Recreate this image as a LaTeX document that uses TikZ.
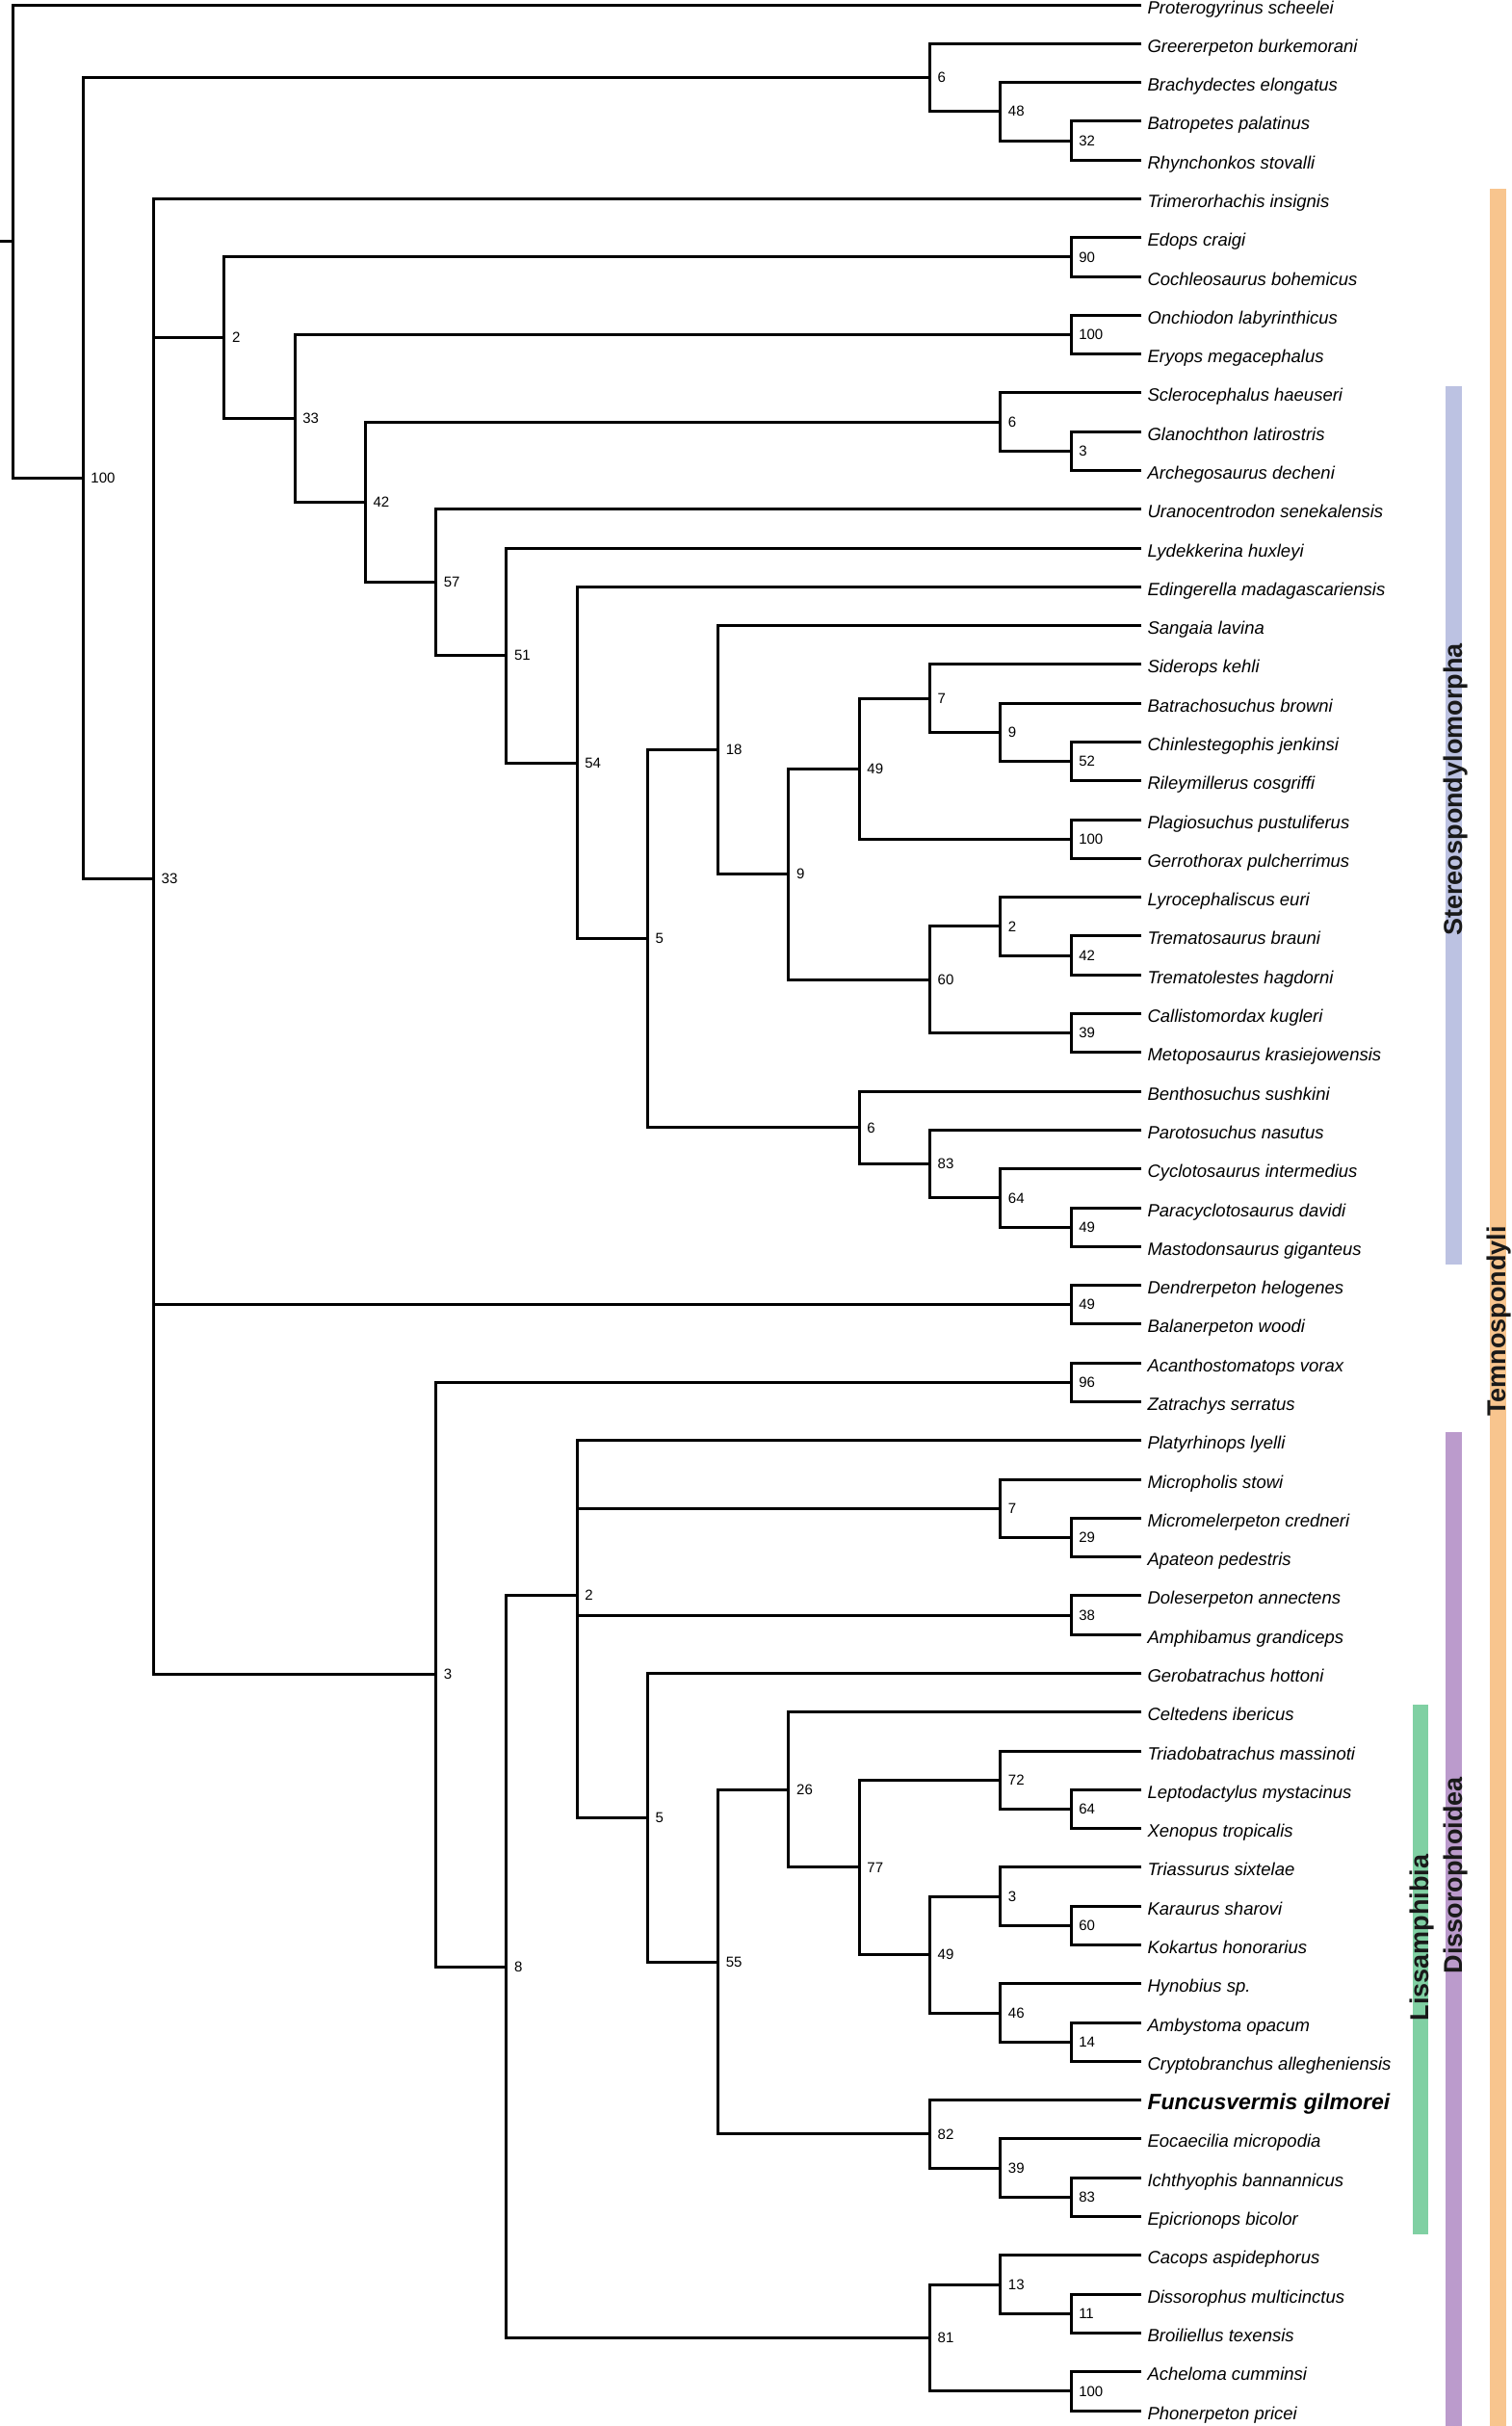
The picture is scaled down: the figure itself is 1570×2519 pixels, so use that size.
\documentclass[tikz,border=0pt]{standalone}
\usepackage{fontspec}
\setmainfont{Liberation Sans}
\definecolor{temncol}{RGB}{248,197,142}
\definecolor{stercol}{RGB}{188,194,226}
\definecolor{disscol}{RGB}{187,155,204}
\definecolor{lisscol}{RGB}{128,208,163}
\begin{document}
\begin{tikzpicture}[x=1pt, y=-1pt,
    branch/.style={line width=3pt, line join=miter},
    taxon/.style={anchor=base west, inner sep=0pt, xshift=6pt, yshift=-9pt, font=\fontsize{18.5}{20}\selectfont\itshape},
    newtaxon/.style={anchor=base west, inner sep=0pt, xshift=6pt, yshift=-10pt, font=\fontsize{23}{26}\selectfont\bfseries\itshape},
    bs/.style={anchor=west, inner sep=0pt, xshift=8pt, font=\fontsize{15}{17}\selectfont},
    cladename/.style={rotate=90, anchor=base, inner sep=0pt, text=black!90, font=\fontsize{27}{30}\selectfont\bfseries}]
    \useasboundingbox (0,0) rectangle (1570,2519);

    % clade bars
    \fill[temncol] (1547,196) rectangle (1564,2519);
    \fill[stercol] (1501,401) rectangle (1518,1313);
    \fill[disscol] (1501,1487) rectangle (1518,2519);
    \fill[lisscol] (1467,1770) rectangle (1483,2320);
    \node[cladename] (temn) at (1563,1372) {Temnospondyli};
    \node[cladename] (ster) at (1518,820) {Stereospondylomorpha};
    \node[cladename] (diss) at (1518,1947) {Dissorophoidea};
    \node[cladename] (liss) at (1483,2012) {Lissamphibia};

    \begin{scope}[shift={(13,5)}, x=73.27pt, y=-40.29pt]
    % tips
    \path (16,0) coordinate (prot) node[taxon] {Proterogyrinus scheelei};
    \path (16,1) coordinate (gree) node[taxon] {Greererpeton burkemorani};
    \path (16,2) coordinate (brac) node[taxon] {Brachydectes elongatus};
    \path (16,3) coordinate (batr) node[taxon] {Batropetes palatinus};
    \path (16,4) coordinate (rhyn) node[taxon] {Rhynchonkos stovalli};
    \path (16,5) coordinate (trim) node[taxon] {Trimerorhachis insignis};
    \path (16,6) coordinate (edop) node[taxon] {Edops craigi};
    \path (16,7) coordinate (coch) node[taxon] {Cochleosaurus bohemicus};
    \path (16,8) coordinate (onch) node[taxon] {Onchiodon labyrinthicus};
    \path (16,9) coordinate (eryo) node[taxon] {Eryops megacephalus};
    \path (16,10) coordinate (scle) node[taxon] {Sclerocephalus haeuseri};
    \path (16,11) coordinate (glan) node[taxon] {Glanochthon latirostris};
    \path (16,12) coordinate (arch) node[taxon] {Archegosaurus decheni};
    \path (16,13) coordinate (uran) node[taxon] {Uranocentrodon senekalensis};
    \path (16,14) coordinate (lyde) node[taxon] {Lydekkerina huxleyi};
    \path (16,15) coordinate (edin) node[taxon] {Edingerella madagascariensis};
    \path (16,16) coordinate (sang) node[taxon] {Sangaia lavina};
    \path (16,17) coordinate (side) node[taxon] {Siderops kehli};
    \path (16,18) coordinate (btch) node[taxon] {Batrachosuchus browni};
    \path (16,19) coordinate (chin) node[taxon] {Chinlestegophis jenkinsi};
    \path (16,20) coordinate (rile) node[taxon] {Rileymillerus cosgriffi};
    \path (16,21) coordinate (plag) node[taxon] {Plagiosuchus pustuliferus};
    \path (16,22) coordinate (gerr) node[taxon] {Gerrothorax pulcherrimus};
    \path (16,23) coordinate (lyro) node[taxon] {Lyrocephaliscus euri};
    \path (16,24) coordinate (trsa) node[taxon] {Trematosaurus brauni};
    \path (16,25) coordinate (trle) node[taxon] {Trematolestes hagdorni};
    \path (16,26) coordinate (call) node[taxon] {Callistomordax kugleri};
    \path (16,27) coordinate (meto) node[taxon] {Metoposaurus krasiejowensis};
    \path (16,28) coordinate (bent) node[taxon] {Benthosuchus sushkini};
    \path (16,29) coordinate (paro) node[taxon] {Parotosuchus nasutus};
    \path (16,30) coordinate (cycl) node[taxon] {Cyclotosaurus intermedius};
    \path (16,31) coordinate (pcyc) node[taxon] {Paracyclotosaurus davidi};
    \path (16,32) coordinate (mast) node[taxon] {Mastodonsaurus giganteus};
    \path (16,33) coordinate (dend) node[taxon] {Dendrerpeton helogenes};
    \path (16,34) coordinate (bala) node[taxon] {Balanerpeton woodi};
    \path (16,35) coordinate (acan) node[taxon] {Acanthostomatops vorax};
    \path (16,36) coordinate (zatr) node[taxon] {Zatrachys serratus};
    \path (16,37) coordinate (plat) node[taxon] {Platyrhinops lyelli};
    \path (16,38) coordinate (mcph) node[taxon] {Micropholis stowi};
    \path (16,39) coordinate (mcml) node[taxon] {Micromelerpeton credneri};
    \path (16,40) coordinate (apat) node[taxon] {Apateon pedestris};
    \path (16,41) coordinate (dole) node[taxon] {Doleserpeton annectens};
    \path (16,42) coordinate (amph) node[taxon] {Amphibamus grandiceps};
    \path (16,43) coordinate (gero) node[taxon] {Gerobatrachus hottoni};
    \path (16,44) coordinate (celt) node[taxon] {Celtedens ibericus};
    \path (16,45) coordinate (trbt) node[taxon] {Triadobatrachus massinoti};
    \path (16,46) coordinate (lept) node[taxon] {Leptodactylus mystacinus};
    \path (16,47) coordinate (xeno) node[taxon] {Xenopus tropicalis};
    \path (16,48) coordinate (trss) node[taxon] {Triassurus sixtelae};
    \path (16,49) coordinate (kara) node[taxon] {Karaurus sharovi};
    \path (16,50) coordinate (koka) node[taxon] {Kokartus honorarius};
    \path (16,51) coordinate (hyno) node[taxon] {Hynobius sp.};
    \path (16,52) coordinate (amby) node[taxon] {Ambystoma opacum};
    \path (16,53) coordinate (cryp) node[taxon] {Cryptobranchus allegheniensis};
    \path (16,54) coordinate (func) node[newtaxon] {Funcusvermis gilmorei};
    \path (16,55) coordinate (eoca) node[taxon] {Eocaecilia micropodia};
    \path (16,56) coordinate (icht) node[taxon] {Ichthyophis bannannicus};
    \path (16,57) coordinate (epic) node[taxon] {Epicrionops bicolor};
    \path (16,58) coordinate (caco) node[taxon] {Cacops aspidephorus};
    \path (16,59) coordinate (dssr) node[taxon] {Dissorophus multicinctus};
    \path (16,60) coordinate (broi) node[taxon] {Broiliellus texensis};
    \path (16,61) coordinate (ache) node[taxon] {Acheloma cumminsi};
    \path (16,62) coordinate (phon) node[taxon] {Phonerpeton pricei};

    % inner nodes, column = depth, row = mean of children
    \path (15,3.5) coordinate (n32) node[bs] {32};
    \path (14,2.75) coordinate (n48) node[bs] {48};
    \path (13,1.875) coordinate (n6a) node[bs] {6};
    \path (15,6.5) coordinate (n90) node[bs] {90};
    \path (15,8.5) coordinate (n100a) node[bs] {100};
    \path (15,11.5) coordinate (n3a) node[bs] {3};
    \path (14,10.75) coordinate (n6b) node[bs] {6};
    \path (15,19.5) coordinate (n52) node[bs] {52};
    \path (14,18.75) coordinate (n9a) node[bs] {9};
    \path (13,17.875) coordinate (n7a) node[bs] {7};
    \path (15,21.5) coordinate (n100b) node[bs] {100};
    \path (12,19.6875) coordinate (n49a) node[bs] {49};
    \path (15,24.5) coordinate (n42a) node[bs] {42};
    \path (14,23.75) coordinate (n2a) node[bs] {2};
    \path (15,26.5) coordinate (n39a) node[bs] {39};
    \path (13,25.125) coordinate (n60a) node[bs] {60};
    \path (11,22.4063) coordinate (n9b) node[bs] {9};
    \path (10,19.2031) coordinate (n18) node[bs] {18};
    \path (15,31.5) coordinate (n49b) node[bs] {49};
    \path (14,30.75) coordinate (n64a) node[bs] {64};
    \path (13,29.875) coordinate (n83a) node[bs] {83};
    \path (12,28.9375) coordinate (n6c) node[bs] {6};
    \path (9,24.0703) coordinate (n5a) node[bs] {5};
    \path (8,19.5352) coordinate (n54) node[bs] {54};
    \path (7,16.7676) coordinate (n51) node[bs] {51};
    \path (6,14.8838) coordinate (n57) node[bs] {57};
    \path (5,12.8169) coordinate (n42b) node[bs] {42};
    \path (4,10.6585) coordinate (n33a) node[bs] {33};
    \path (3,8.5792) coordinate (n2b) node[bs] {2};
    \path (15,33.5) coordinate (n49c) node[bs] {49};
    \path (15,35.5) coordinate (n96) node[bs] {96};
    \path (15,39.5) coordinate (n29) node[bs] {29};
    \path (14,38.75) coordinate (n7b) node[bs] {7};
    \path (15,41.5) coordinate (n38) node[bs] {38};
    \path (15,46.5) coordinate (n64b) node[bs] {64};
    \path (14,45.75) coordinate (n72) node[bs] {72};
    \path (15,49.5) coordinate (n60b) node[bs] {60};
    \path (14,48.75) coordinate (n3b) node[bs] {3};
    \path (15,52.5) coordinate (n14) node[bs] {14};
    \path (14,51.75) coordinate (n46) node[bs] {46};
    \path (13,50.25) coordinate (n49d) node[bs] {49};
    \path (12,48) coordinate (n77) node[bs] {77};
    \path (11,46) coordinate (n26) node[bs] {26};
    \path (15,56.5) coordinate (n83b) node[bs] {83};
    \path (14,55.75) coordinate (n39b) node[bs] {39};
    \path (13,54.875) coordinate (n82) node[bs] {82};
    \path (10,50.4375) coordinate (n55) node[bs] {55};
    \path (9,46.7188) coordinate (n5b) node[bs] {5};
    \path (8,40.9922) coordinate (n2c) node[bs] {2};
    \path (15,59.5) coordinate (n11) node[bs] {11};
    \path (14,58.75) coordinate (n13) node[bs] {13};
    \path (15,61.5) coordinate (n100c) node[bs] {100};
    \path (13,60.125) coordinate (n81) node[bs] {81};
    \path (7,50.5586) coordinate (n8) node[bs] {8};
    \path (6,43.0293) coordinate (n3c) node[bs] {3};
    \path (2,22.5271) coordinate (n33b) node[bs] {33};
    \path (1,12.2014) coordinate (n100d) node[bs] {100};
    \coordinate (root) at (0,6.1007);
    \coordinate (stub) at (-0.1774,6.1007);

    % branches
    \draw[branch] (batr) -| (n32) |- (rhyn);
    \draw[branch] (brac) -| (n48) |- (n32);
    \draw[branch] (gree) -| (n6a) |- (n48);
    \draw[branch] (edop) -| (n90) |- (coch);
    \draw[branch] (onch) -| (n100a) |- (eryo);
    \draw[branch] (glan) -| (n3a) |- (arch);
    \draw[branch] (scle) -| (n6b) |- (n3a);
    \draw[branch] (chin) -| (n52) |- (rile);
    \draw[branch] (btch) -| (n9a) |- (n52);
    \draw[branch] (side) -| (n7a) |- (n9a);
    \draw[branch] (plag) -| (n100b) |- (gerr);
    \draw[branch] (n7a) -| (n49a) |- (n100b);
    \draw[branch] (trsa) -| (n42a) |- (trle);
    \draw[branch] (lyro) -| (n2a) |- (n42a);
    \draw[branch] (call) -| (n39a) |- (meto);
    \draw[branch] (n2a) -| (n60a) |- (n39a);
    \draw[branch] (n49a) -| (n9b) |- (n60a);
    \draw[branch] (sang) -| (n18) |- (n9b);
    \draw[branch] (pcyc) -| (n49b) |- (mast);
    \draw[branch] (cycl) -| (n64a) |- (n49b);
    \draw[branch] (paro) -| (n83a) |- (n64a);
    \draw[branch] (bent) -| (n6c) |- (n83a);
    \draw[branch] (n18) -| (n5a) |- (n6c);
    \draw[branch] (edin) -| (n54) |- (n5a);
    \draw[branch] (lyde) -| (n51) |- (n54);
    \draw[branch] (uran) -| (n57) |- (n51);
    \draw[branch] (n6b) -| (n42b) |- (n57);
    \draw[branch] (n100a) -| (n33a) |- (n42b);
    \draw[branch] (n90) -| (n2b) |- (n33a);
    \draw[branch] (dend) -| (n49c) |- (bala);
    \draw[branch] (acan) -| (n96) |- (zatr);
    \draw[branch] (mcml) -| (n29) |- (apat);
    \draw[branch] (mcph) -| (n7b) |- (n29);
    \draw[branch] (dole) -| (n38) |- (amph);
    \draw[branch] (lept) -| (n64b) |- (xeno);
    \draw[branch] (trbt) -| (n72) |- (n64b);
    \draw[branch] (kara) -| (n60b) |- (koka);
    \draw[branch] (trss) -| (n3b) |- (n60b);
    \draw[branch] (amby) -| (n14) |- (cryp);
    \draw[branch] (hyno) -| (n46) |- (n14);
    \draw[branch] (n3b) -| (n49d) |- (n46);
    \draw[branch] (n72) -| (n77) |- (n49d);
    \draw[branch] (celt) -| (n26) |- (n77);
    \draw[branch] (icht) -| (n83b) |- (epic);
    \draw[branch] (eoca) -| (n39b) |- (n83b);
    \draw[branch] (func) -| (n82) |- (n39b);
    \draw[branch] (n26) -| (n55) |- (n82);
    \draw[branch] (gero) -| (n5b) |- (n55);
    \draw[branch] (plat) -| (n2c) |- (n5b) (n2c) |- (n7b) (n2c) |- (n38);
    \draw[branch] (dssr) -| (n11) |- (broi);
    \draw[branch] (caco) -| (n13) |- (n11);
    \draw[branch] (ache) -| (n100c) |- (phon);
    \draw[branch] (n13) -| (n81) |- (n100c);
    \draw[branch] (n2c) -| (n8) |- (n81);
    \draw[branch] (n96) -| (n3c) |- (n8);
    \draw[branch] (trim) -| (n33b) |- (n3c) (n33b) |- (n2b) (n33b) |- (n49c);
    \draw[branch] (n6a) -| (n100d) |- (n33b);
    \draw[branch] (prot) -| (root) |- (n100d);
    \draw[branch] (stub) -- (root);
    \end{scope}
\end{tikzpicture}
\end{document}
